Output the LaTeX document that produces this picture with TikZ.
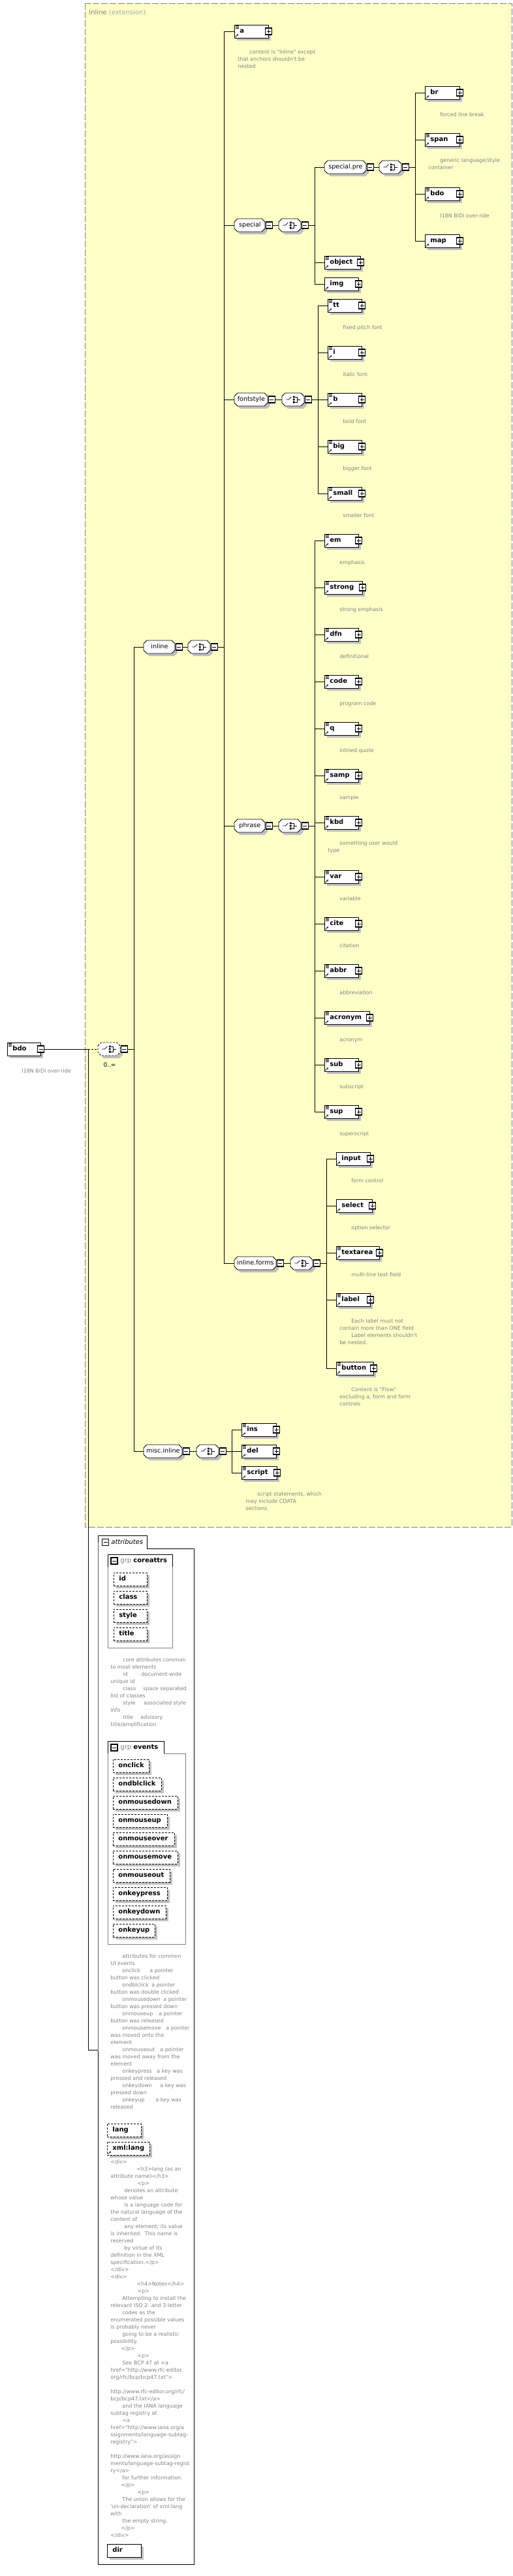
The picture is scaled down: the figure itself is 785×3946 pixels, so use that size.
\documentclass[tikz,border=0pt]{standalone}
\usepackage{fontspec}
\setmainfont{DejaVu Sans}[Ligatures=TeXOff]
\usepackage{tikz}
\usetikzlibrary{arrows.meta, shadows}
\definecolor{inlinebg}{RGB}{255,255,200}
\definecolor{shadowgray}{RGB}{192,192,192}
\definecolor{docgray}{RGB}{128,128,128}
\newcommand{\elemfont}{\fontsize{10}{12}\selectfont\bfseries}
\newcommand{\grpfont}{\fontsize{9.6}{12}\selectfont}
\newcommand{\docfont}{\fontsize{8}{11}\selectfont}
\newcommand{\dgap}[2]{\makebox[#1][l]{#2}}

\begin{document}
\begin{tikzpicture}[x=1pt, y=-1pt, line width=0.8pt,
    boxshadow/.style={drop shadow={shadow xshift=4pt, shadow yshift=-4pt, fill=shadowgray, opacity=1}},
    elem/.style={draw, fill=white, boxshadow, anchor=west, minimum height=20pt,
      inner xsep=8pt, inner ysep=0pt, text width=#1, align=left,
      text height=7.5pt, text depth=2pt, font=\elemfont},
    attbox/.style={elem=#1, dash pattern=on 3pt off 2pt},
    pics/octa/.style={code={
      \fill[shadowgray] (4,-1) -- (9,-6) -- (#1-1,-6) -- (#1+4,-1) -- (#1+4,9) -- (#1-1,14) -- (9,14) -- (4,9) -- cycle;
      \filldraw[fill=white] (0,-5) -- (5,-10) -- (#1-5,-10) -- (#1,-5) -- (#1,5) -- (#1-5,10) -- (5,10) -- (0,5) -- cycle;}},
    grp/.style={anchor=west, minimum width=#1, minimum height=20pt, inner xsep=1pt, inner ysep=0pt,
      text height=7pt, text depth=2pt, font=\grpfont},
    choice/.style={grp=34pt},
    minusbox/.style={draw, fill=white, line width=1.1pt, minimum size=10pt, inner sep=0pt, anchor=west,
      path picture={\draw[solid, line width=0.8pt] ([xshift=-3pt]path picture bounding box.center) -- ([xshift=3pt]path picture bounding box.center);}},
    plusbox/.style={minusbox, anchor=center,
      path picture={\draw[line width=0.8pt] ([xshift=-3pt]path picture bounding box.center) -- ([xshift=3pt]path picture bounding box.center)
        ([yshift=-3pt]path picture bounding box.center) -- ([yshift=3pt]path picture bounding box.center);}},
    doc/.style={anchor=north west, inner sep=0pt, align=left, font=\docfont, text=docgray, execute at begin node=\strut}]

    \useasboundingbox (0,0) rectangle (785,3946);
    \fill[inlinebg] (130,5) rectangle (784,2339);
    \draw[docgray, dash pattern=on 10pt off 3pt] (130,5) rectangle (784,2339);
    \node[anchor=west, inner sep=0pt, font=\fontsize{10}{12}\selectfont, text=docgray] (inlineTitle) at (136,19) {Inline \textcolor{docgray!70}{(extension)}};

    \node[elem=35pt] (bdo) at (11,1607) {bdo};
    \node[minusbox, anchor=center] (bdoMinus) at (bdo.east) {};
    \node[doc] (bdoDoc) at (15,1635.5) {\hspace*{18pt}I18N BiDi over-ride};
    \pic[dash pattern=on 3pt off 2pt] at (150,1607) {octa=34};
    \node[choice] (rootChoice) at (150,1607) {};
    \node[minusbox] (rootChoiceMinus) at (rootChoice.east) {};
    \node[inner sep=0pt, font=\fontsize{9}{11}\selectfont] (rootOcc) at (168,1631) {0..∞};
    \coordinate (rootBus) at (135,1607);
    \coordinate (choiceBus) at (205,1607);

    \pic at (220,991) {octa=48};
    \node[grp=48pt] (inline) at (220,991) {inline};
    \node[minusbox] (inlineMinus) at (inline.east) {};
    \pic at (288,991) {octa=34};
    \node[choice] (inlineChoice) at (288,991) {};
    \node[minusbox] (inlineChoiceMinus) at (inlineChoice.east) {};
    \coordinate (inlineBus) at (343,991);

    \node[elem=36pt] (a) at (359,48) {a};
    \node[doc] (aDoc) at (364,76.5) {\hspace*{18pt}content is "Inline" except\\that anchors shouldn't be\\nested};

    \pic at (359,345) {octa=47};
    \node[grp=47pt] (special) at (359,345) {special};
    \node[minusbox] (specialMinus) at (special.east) {};
    \pic at (427,345) {octa=34};
    \node[choice] (specialChoice) at (427,345) {};
    \node[minusbox] (specialChoiceMinus) at (specialChoice.east) {};
    \coordinate (specialBus) at (482,345);

    \pic at (497,256) {octa=64};
    \node[grp=64pt] (specialpre) at (497,256) {special.pre};
    \node[minusbox] (specialpreMinus) at (specialpre.east) {};
    \pic at (581,256) {octa=34};
    \node[choice] (specialpreChoice) at (581,256) {};
    \node[minusbox] (specialpreChoiceMinus) at (specialpreChoice.east) {};
    \coordinate (specialpreBus) at (636,256);

    \node[elem=37pt] (br) at (651,142) {br};
    \node[doc] (brDoc) at (656,170.5) {\hspace*{18pt}forced line break};
    \node[elem=37pt] (span) at (651,214) {span};
    \node[doc] (spanDoc) at (656,242.5) {\hspace*{18pt}generic language/style\\container};
    \node[elem=37pt] (bdoRef) at (651,297) {bdo};
    \node[doc] (bdoRefDoc) at (656,325.5) {\hspace*{18pt}I18N BiDi over-ride};
    \node[elem=37pt] (map) at (651,369) {map};
    \node[elem=39pt] (object) at (497,402) {object};
    \node[elem=36pt] (img) at (497,435) {img};

    \pic at (359,612) {octa=51};
    \node[grp=51pt] (fontstyle) at (359,612) {fontstyle};
    \node[minusbox] (fontstyleMinus) at (fontstyle.east) {};
    \pic at (432,612) {octa=34};
    \node[choice] (fontstyleChoice) at (432,612) {};
    \node[minusbox] (fontstyleChoiceMinus) at (fontstyleChoice.east) {};
    \coordinate (fontstyleBus) at (487,612);

    \node[elem=36pt] (tt) at (502,468) {tt};
    \node[doc] (ttDoc) at (507,496.5) {\hspace*{18pt}fixed pitch font};
    \node[elem=36pt] (i) at (502,540) {i};
    \node[doc] (iDoc) at (507,568.5) {\hspace*{18pt}italic font};
    \node[elem=36pt] (b) at (502,612) {b};
    \node[doc] (bDoc) at (507,640.5) {\hspace*{18pt}bold font};
    \node[elem=36pt] (big) at (502,684) {big};
    \node[doc] (bigDoc) at (507,712.5) {\hspace*{18pt}bigger font};
    \node[elem=36pt] (small) at (502,756) {small};
    \node[doc] (smallDoc) at (507,784.5) {\hspace*{18pt}smaller font};

    \pic at (359,1265) {octa=47};
    \node[grp=47pt] (phrase) at (359,1265) {phrase};
    \node[minusbox] (phraseMinus) at (phrase.east) {};
    \pic at (427,1265) {octa=34};
    \node[choice] (phraseChoice) at (427,1265) {};
    \node[minusbox] (phraseChoiceMinus) at (phraseChoice.east) {};
    \coordinate (phraseBus) at (482,1265);

    \node[elem=36pt] (em) at (497,828) {em};
    \node[doc] (emDoc) at (502,856.5) {\hspace*{18pt}emphasis};
    \node[elem=42pt] (strong) at (497,900) {strong};
    \node[doc] (strongDoc) at (502,928.5) {\hspace*{18pt}strong emphasis};
    \node[elem=36pt] (dfn) at (497,972) {dfn};
    \node[doc] (dfnDoc) at (502,1000.5) {\hspace*{18pt}definitional};
    \node[elem=36pt] (code) at (497,1044) {code};
    \node[doc] (codeDoc) at (502,1072.5) {\hspace*{18pt}program code};
    \node[elem=36pt] (q) at (497,1116) {q};
    \node[doc] (qDoc) at (502,1144.5) {\hspace*{18pt}inlined quote};
    \node[elem=36pt] (samp) at (497,1188) {samp};
    \node[doc] (sampDoc) at (502,1216.5) {\hspace*{18pt}sample};
    \node[elem=36pt] (kbd) at (497,1260) {kbd};
    \node[doc] (kbdDoc) at (502,1288.5) {\hspace*{18pt}something user would\\type};
    \node[elem=36pt] (var) at (497,1343) {var};
    \node[doc] (varDoc) at (502,1371.5) {\hspace*{18pt}variable};
    \node[elem=36pt] (cite) at (497,1415) {cite};
    \node[doc] (citeDoc) at (502,1443.5) {\hspace*{18pt}citation};
    \node[elem=36pt] (abbr) at (497,1487) {abbr};
    \node[doc] (abbrDoc) at (502,1515.5) {\hspace*{18pt}abbreviation};
    \node[elem=53pt] (acronym) at (497,1559) {acronym};
    \node[doc] (acronymDoc) at (502,1587.5) {\hspace*{18pt}acronym};
    \node[elem=36pt] (sub) at (497,1631) {sub};
    \node[doc] (subDoc) at (502,1659.5) {\hspace*{18pt}subscript};
    \node[elem=36pt] (sup) at (497,1703) {sup};
    \node[doc] (supDoc) at (502,1731.5) {\hspace*{18pt}superscript};

    \pic at (359,1935) {octa=64};
    \node[grp=64pt] (inlineforms) at (359,1935) {inline.forms};
    \node[minusbox] (inlineformsMinus) at (inlineforms.east) {};
    \pic at (445,1935) {octa=34};
    \node[choice] (inlineformsChoice) at (445,1935) {};
    \node[minusbox] (inlineformsChoiceMinus) at (inlineformsChoice.east) {};
    \coordinate (inlineformsBus) at (500,1935);

    \node[elem=36pt] (input) at (515,1775) {input};
    \node[doc] (inputDoc) at (520,1803.5) {\hspace*{18pt}form control};
    \node[elem=39pt] (select) at (515,1847) {select};
    \node[doc] (selectDoc) at (520,1875.5) {\hspace*{18pt}option selector};
    \node[elem=50pt] (textarea) at (515,1919) {textarea};
    \node[doc] (textareaDoc) at (520,1947.5) {\hspace*{18pt}multi-line text field};
    \node[elem=36pt] (label) at (515,1991) {label};
    \node[doc] (labelDoc) at (520,2019.5) {\hspace*{18pt}Each label must not\\contain more than ONE field\\\hspace*{18pt}Label elements shouldn't\\be nested.};
    \node[elem=41pt] (button) at (515,2096) {button};
    \node[doc] (buttonDoc) at (520,2124.5) {\hspace*{18pt}Content is "Flow"\\excluding a, form and form\\controls};

    \pic at (220,2223) {octa=59};
    \node[grp=59pt] (miscinline) at (220,2223) {misc.inline};
    \node[minusbox] (miscinlineMinus) at (miscinline.east) {};
    \pic at (301,2223) {octa=34};
    \node[choice] (miscinlineChoice) at (301,2223) {};
    \node[minusbox] (miscinlineChoiceMinus) at (miscinlineChoice.east) {};
    \coordinate (miscinlineBus) at (355,2223);

    \node[elem=37pt] (ins) at (370,2190) {ins};
    \node[elem=37pt] (del) at (370,2223) {del};
    \node[elem=38pt] (script) at (370,2256) {script};
    \node[doc] (scriptDoc) at (376,2284.5) {\hspace*{18pt}script statements, which\\may include CDATA\\sections};

    \node[anchor=north west, minimum width=147pt, minimum height=1576pt, inner sep=0pt] (attrs) at (150,2352) {};
    \draw (150,2372) -- (150,2352) -- (225,2352) -- (225,2372) -- (297,2372) -- (297,3928) -- (150,3928) -- cycle;
    \node[minusbox, anchor=center] (attrsMinus) at (161.5,2362.5) {};
    \node[anchor=west, inner sep=0pt, font=\fontsize{10}{12}\selectfont\itshape] (attrsLabel) at (170,2362) {attributes};

    \draw (165,2400) -- (165,2381) -- (264,2381) -- (264,2400);
    \draw[docgray] (165,2400) -- (165,2524) -- (264,2524) -- (264,2400);
    \node[minusbox, anchor=center] (coreMinus) at (175,2391) {};
    \node[anchor=west, inner sep=0pt, font=\fontsize{10}{12}\selectfont] (coreLabel) at (184,2390.5) {\textcolor{docgray}{grp} \textbf{coreattrs}};
    \node[attbox=35pt] (id) at (174,2419) {id};
    \node[attbox=35pt] (class) at (174,2447) {class};
    \node[attbox=35pt] (style) at (174,2475) {style};
    \node[attbox=35pt] (title) at (174,2503) {title};
    \node[doc] (coreDoc) at (169,2538.5) {\hspace*{19pt}core attributes common\\to most elements\\\hspace*{19pt}\dgap{28pt}{id}document-wide\\unique id\\\hspace*{19pt}\dgap{31pt}{class}space separated\\list of classes\\\hspace*{19pt}\dgap{32pt}{style}associated style\\info\\\hspace*{19pt}\dgap{27pt}{title}advisory\\title/amplification};

    \draw (165,2686) -- (165,2667) -- (251,2667) -- (251,2686);
    \draw[docgray] (251,2686) -- (284,2686) -- (284,2978) -- (165,2978) -- (165,2686);
    \node[minusbox, anchor=center] (eventsMinus) at (175,2677) {};
    \node[anchor=west, inner sep=0pt, font=\fontsize{10}{12}\selectfont] (eventsLabel) at (184,2676.5) {\textcolor{docgray}{grp} \textbf{events}};
    \node[attbox=39pt] (onclick) at (173,2705) {onclick};
    \node[attbox=58pt] (ondblclick) at (173,2733) {ondblclick};
    \node[attbox=83pt] (onmousedown) at (173,2761) {onmousedown};
    \node[attbox=67pt] (onmouseup) at (173,2789) {onmouseup};
    \node[attbox=78pt] (onmouseover) at (173,2817) {onmouseover};
    \node[attbox=83pt] (onmousemove) at (173,2845) {onmousemove};
    \node[attbox=71pt] (onmouseout) at (173,2873) {onmouseout};
    \node[attbox=67pt] (onkeypress) at (173,2901) {onkeypress};
    \node[attbox=65pt] (onkeydown) at (173,2929) {onkeydown};
    \node[attbox=48pt] (onkeyup) at (173,2957) {onkeyup};
    \node[doc] (eventsDoc) at (169,2992.5) {\hspace*{18pt}attributes for common\\UI events\\
      \hspace*{18pt}\dgap{42pt}{onclick}a pointer\\button was clicked\\
      \hspace*{18pt}\dgap{45pt}{ondblclick}a pointer\\button was double clicked\\
      \hspace*{18pt}\dgap{63pt}{onmousedown}a pointer\\button was pressed down\\
      \hspace*{18pt}\dgap{56pt}{onmouseup}a pointer\\button was released\\
      \hspace*{18pt}\dgap{67pt}{onmousemove}a pointer\\was moved onto the\\element\\
      \hspace*{18pt}\dgap{58pt}{onmouseout}a pointer\\was moved away from the\\element\\
      \hspace*{18pt}\dgap{53pt}{onkeypress}a key was\\pressed and released\\
      \hspace*{18pt}\dgap{58pt}{onkeydown}a key was\\pressed down\\
      \hspace*{18pt}\dgap{51pt}{onkeyup}a key was\\released};

    \node[attbox=36pt] (lang) at (164,3263) {lang};
    \node[attbox=49pt] (xmllang) at (164,3291) {xml:lang};
    \node[doc] (xmllangDoc) at (169,3307.5) {<div>\\
      \hspace*{40pt}<h3>lang (as an\\
      attribute name)</h3>\\
      \hspace*{41pt}<p>\\
      \hspace*{21pt}denotes an attribute\\
      whose value\\
      \hspace*{21pt}is a language code for\\
      the natural language of the\\
      content of\\
      \hspace*{21pt}any element; its value\\
      is inherited.\ \ This name is\\
      reserved\\
      \hspace*{21pt}by virtue of its\\
      definition in the XML\\
      specification.</p>\\
      </div>\\
      <div>\\
      \hspace*{40pt}<h4>Notes</h4>\\
      \hspace*{41pt}<p>\\
      \hspace*{18pt}Attempting to install the\\
      relevant ISO 2- and 3-letter\\
      \hspace*{18pt}codes as the\\
      enumerated possible values\\
      is probably never\\
      \hspace*{18pt}going to be a realistic\\
      possibility.\\
      \hspace*{16pt}</p>\\
      \hspace*{41pt}<p>\\
      \hspace*{18pt}See BCP 47 at <a\\
      href="http://www.rfc-editor.\\
      org/rfc/bcp/bcp47.txt">\\[11pt]
      http://www.rfc-editor.org/rfc/\\
      bcp/bcp47.txt</a>\\
      \hspace*{18pt}and the IANA language\\
      subtag registry at\\
      \hspace*{18pt}<a\\
      href="http://www.iana.org/a\\
      ssignments/language-subtag-\\
      registry">\\[11pt]
      http://www.iana.org/assign\\
      ments/language-subtag-regist\\
      ry</a>\\
      \hspace*{18pt}for further information.\\
      \hspace*{16pt}</p>\\
      \hspace*{41pt}<p>\\
      \hspace*{18pt}The union allows for the\\
      'un-declaration' of xml:lang\\
      with\\
      \hspace*{18pt}the empty string.\\
      \hspace*{16pt}</p>\\
      </div>};
    \node[elem=36pt] (dir) at (164,3907) {dir};

    \draw (bdoMinus.east) -- (rootBus);
    \draw[dash pattern=on 3pt off 2pt] (rootBus) -- (rootChoice.west);
    \draw (rootBus) |- (attrs.west);
    \draw (rootChoiceMinus.east) -- (choiceBus);
    \foreach \c in {inline,miscinline} \draw (\c.west) -| (choiceBus);
    \foreach \g in {inline,special,specialpre,fontstyle,phrase,inlineforms,miscinline}
      \draw (\g Minus.east) -- (\g Choice.west) (\g ChoiceMinus.east) -- (\g Bus);
    \foreach \c in {a,special,fontstyle,phrase,inlineforms} \draw (\c.west) -| (inlineBus);
    \foreach \c in {specialpre,object,img} \draw (\c.west) -| (specialBus);
    \foreach \c in {br,span,bdoRef,map} \draw (\c.west) -| (specialpreBus);
    \foreach \c in {tt,i,b,big,small} \draw (\c.west) -| (fontstyleBus);
    \foreach \c in {em,strong,dfn,code,q,samp,kbd,var,cite,abbr,acronym,sub,sup} \draw (\c.west) -| (phraseBus);
    \foreach \c in {input,select,textarea,label,button} \draw (\c.west) -| (inlineformsBus);
    \foreach \c in {ins,del,script} \draw (\c.west) -| (miscinlineBus);

    \foreach \n in {rootChoice,inlineChoice,specialChoice,specialpreChoice,fontstyleChoice,phraseChoice,inlineformsChoice,miscinlineChoice} {
      \draw ([xshift=-11pt]\n.center) -- ([xshift=-7pt]\n.center) -- ([xshift=-3pt,yshift=4pt]\n.center);
      \fill[black] ([shift={(-0.5pt,2.7pt)}]\n.center) rectangle ([shift={(2.3pt,5.5pt)}]\n.center)
        ([shift={(-0.5pt,-1.4pt)}]\n.center) rectangle ([shift={(2.3pt,1.4pt)}]\n.center)
        ([shift={(-0.5pt,-5.5pt)}]\n.center) rectangle ([shift={(2.3pt,-2.7pt)}]\n.center);
      \draw ([shift={(3pt,4pt)}]\n.center) -- ([shift={(6pt,4pt)}]\n.center) -- ([shift={(6pt,-4pt)}]\n.center) -- ([shift={(3pt,-4pt)}]\n.center)
        ([xshift=6pt]\n.center) -- ([xshift=11pt]\n.center);
    }
    \foreach \n in {bdo,a,span,bdoRef,object,tt,i,b,big,small,em,strong,dfn,code,q,samp,kbd,var,cite,abbr,acronym,sub,sup,textarea,label,button,ins,del,script}
      \draw[line width=0.6pt] ([xshift=2pt,yshift=-2pt]\n.north west) -- ++(5pt,0pt)
        ([xshift=2pt,yshift=-4pt]\n.north west) -- ++(5pt,0pt)
        ([xshift=2pt,yshift=-6pt]\n.north west) -- ++(5pt,0pt);
    \foreach \n in {a,br,span,bdoRef,map,object,img,tt,i,b,big,small,em,strong,dfn,code,q,samp,kbd,var,cite,abbr,acronym,sub,sup,input,select,textarea,label,button,ins,del,script,xmllang}
      \draw[line width=0.7pt, solid, -{Stealth[length=2.5pt, width=2.8pt]}] ([xshift=1.5pt,yshift=1.5pt]\n.south west) -- ++(4.5pt,4.5pt);
    \foreach \n in {a,br,span,bdoRef,map,object,img,tt,i,b,big,small,em,strong,dfn,code,q,samp,kbd,var,cite,abbr,acronym,sub,sup,input,select,textarea,label,button,ins,del,script}
      \node[plusbox] (\n-plus) at (\n.east) {};
\end{tikzpicture}
\end{document}
